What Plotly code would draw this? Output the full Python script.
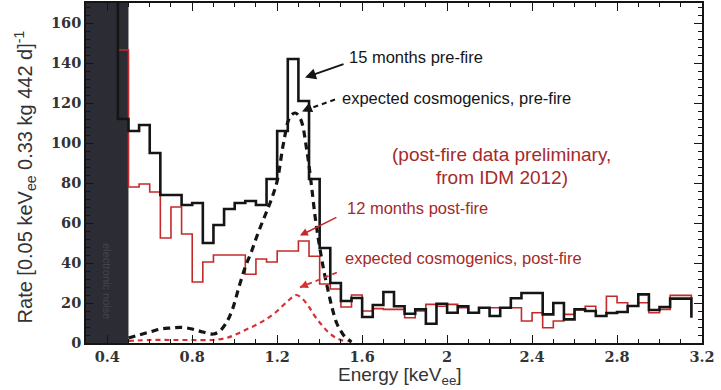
import numpy as np
import plotly.graph_objects as go

# ---------------- data ----------------
# histogram bin left edges (0.05 keV bins); first entry is an off-scale bin, last entry is the end of the line
bin_edges = np.round(np.arange(0.40, 3.151, 0.05), 2)

pre_fire_15mo = [200, 112, 106, 109, 95, 74, 74, 69, 70, 50, 59, 67, 70, 71, 69, 82, 106, 142, 121, 82,
                 47.5, 30, 21, 22.5, 13, 19, 25.5, 18.4, 14.6, 16.8, 9.6, 19.6, 15.1, 18.4, 15.1, 17.6,
                 13.5, 17.6, 22.4, 25, 25, 14.3, 20, 11.8, 16.8, 16, 13.5, 15, 15.5, 18.5, 24.3, 16.5,
                 18, 22.2, 22.2, 12.6]

post_fire_12mo = [200, 146.5, 78, 79.5, 75.5, 52.5, 68, 54.5, 30.5, 40.5, 44, 44, 44, 34.4, 42, 40.5, 46,
                  46, 51, 43.4, 29.5, 27, 18, 24, 16, 17.2, 16.8, 16.8, 12.6, 16, 19.3, 18.4, 19.3, 17.6,
                  15.1, 17.6, 17.6, 17.6, 17.6, 11, 15.1, 7.6, 11, 14.3, 16.8, 18.4, 13.5, 23.4, 20.1,
                  18.4, 20.1, 15.1, 16.8, 23.8, 23.8, 14.3]

cosmo_pre_E = [0.50, 0.55, 0.60, 0.65, 0.70, 0.75, 0.80, 0.85, 0.90, 0.93, 0.96, 0.99, 1.02, 1.05, 1.08,
               1.11, 1.14, 1.17, 1.20, 1.23, 1.26, 1.285, 1.31, 1.34, 1.36, 1.38, 1.40, 1.42, 1.44, 1.46,
               1.48, 1.50, 1.52, 1.55]
cosmo_pre = [2.5, 4, 5.5, 7, 7.5, 7.8, 7, 5.5, 4.5, 6, 10, 17, 28, 38, 46, 55, 63, 71, 81, 100, 113, 115,
             112, 96, 80, 62, 48, 36, 26, 17, 10, 6, 3, 0.5]

cosmo_post_E = [0.50, 0.60, 0.70, 0.80, 0.90, 0.96, 1.00, 1.05, 1.10, 1.15, 1.20, 1.25, 1.29, 1.32, 1.35,
                1.38, 1.41, 1.44, 1.47, 1.50, 1.53]
cosmo_post = [1, 1.5, 1.5, 1.5, 1.5, 2.5, 4, 6.5, 9, 12, 16, 21, 24, 22, 18, 13, 9, 5.5, 3, 1.5, 0.5]

noise_region = [0.3, 0.5]
x_ticks = [0.4, 0.8, 1.2, 1.6, 2, 2.4, 2.8, 3.2]
x_ticklabels = ["0.4", "0.8", "1.2", "1.6", "2", "2.4", "2.8", "3.2"]
y_ticks = [0, 20, 40, 60, 80, 100, 120, 140, 160]

BLACK = "#151515"
RED_LINE = "#c42a2a"
RED_DASH = "#d83030"
RED_TEXT = "#a52a2a"

fig = go.Figure()

fig.add_shape(type="rect", xref="x", yref="paper", x0=noise_region[0], x1=noise_region[1], y0=0, y1=1,
              fillcolor="#2c2c35", line=dict(width=0), layer="below")

fig.add_trace(go.Scatter(x=bin_edges, y=post_fire_12mo, mode="lines", line=dict(shape="hv", color=RED_LINE, width=1.6),
                         name="12 months post-fire"))
fig.add_trace(go.Scatter(x=bin_edges, y=pre_fire_15mo, mode="lines", line=dict(shape="hv", color=BLACK, width=2.6),
                         name="15 months pre-fire"))
fig.add_trace(go.Scatter(x=cosmo_post_E, y=cosmo_post, mode="lines", line=dict(color=RED_DASH, width=2.2, dash="5px,4px"),
                         line_shape="spline", name="expected cosmogenics, post-fire"))
fig.add_trace(go.Scatter(x=cosmo_pre_E, y=cosmo_pre, mode="lines", line=dict(color=BLACK, width=3.2, dash="7px,5px"),
                         line_shape="spline", name="expected cosmogenics, pre-fire"))

txt = dict(family="Liberation Sans, Arial, sans-serif", size=16.5)
ann = []
# black labels
ann.append(dict(x=1.529, y=143.2, text="15 months pre-fire", xanchor="left", yanchor="middle", showarrow=False,
                font=dict(color=BLACK, **txt)))
ann.append(dict(x=1.331, y=132.7, ax=40, ay=-14, text="", showarrow=True, arrowhead=2, arrowsize=1.1,
                arrowwidth=2, arrowcolor=BLACK))
ann.append(dict(x=1.496, y=122.3, text="expected cosmogenics, pre-fire", xanchor="left", yanchor="middle",
                showarrow=False, font=dict(color=BLACK, **txt)))
# red labels
ann.append(dict(x=2.258, y=94.4, text="(post-fire data preliminary,", xanchor="center", yanchor="middle",
                showarrow=False, font=dict(color=RED_TEXT, family=txt["family"], size=19)))
ann.append(dict(x=2.258, y=83.0, text="from IDM 2012)", xanchor="center", yanchor="middle",
                showarrow=False, font=dict(color=RED_TEXT, family=txt["family"], size=19)))
ann.append(dict(x=1.519, y=67.6, text="12 months post-fire", xanchor="left", yanchor="middle", showarrow=False,
                font=dict(color=RED_TEXT, **txt)))
ann.append(dict(x=1.307, y=53.7, ax=38, ay=-19, text="", showarrow=True, arrowhead=2, arrowsize=1,
                arrowwidth=1.6, arrowcolor=RED_LINE))
ann.append(dict(x=1.51, y=42.7, text="expected cosmogenics, post-fire", xanchor="left", yanchor="middle",
                showarrow=False, font=dict(color=RED_TEXT, **txt)))
# dashed leader heads
ann.append(dict(x=1.317, y=115.8, ax=7, ay=-3, text="", showarrow=True, arrowhead=2, arrowsize=1,
                arrowwidth=2, arrowcolor=BLACK))
ann.append(dict(x=1.307, y=27.8, ax=7, ay=-3, text="", showarrow=True, arrowhead=2, arrowsize=1,
                arrowwidth=1.6, arrowcolor=RED_DASH))
# electronic noise label
ann.append(dict(x=0.399, y=31, text="electronic noise", textangle=90, showarrow=False,
                font=dict(color="#44444f", size=11, family=txt["family"])))
# axis titles
ann.append(dict(xref="paper", yref="paper", x=-0.099, y=0.487, text="Rate [0.05 keV<sub>ee</sub> 0.33 kg 442 d]<sup>-1</sup>",
                textangle=-90, showarrow=False, xanchor="center", yanchor="middle",
                font=dict(color="#333333", size=20, family=txt["family"])))
ann.append(dict(xref="paper", yref="paper", x=0.51, y=-0.137, text="Energy [keV<sub>ee</sub>]",
                showarrow=False, xanchor="center", yanchor="bottom",
                font=dict(color="#333333", size=19, family=txt["family"])))

# dashed leader lines
fig.add_shape(type="line", xref="x", yref="y", x0=1.317 + 33 / 212.4, y0=115.8 + 12 * 170 / 342, x1=1.317, y1=115.8,
              line=dict(color=BLACK, width=2.2, dash="5px,4px"))
fig.add_shape(type="line", xref="x", yref="y", x0=1.307 + 37 / 212.4, y0=27.8 + 15 * 170 / 342, x1=1.307, y1=27.8,
              line=dict(color=RED_DASH, width=1.8, dash="5px,4px"))

tickfont = dict(family="DejaVu Serif", size=14.5, color="#333333", weight="bold")
fig.update_layout(
    width=721, height=390, margin=dict(l=86, r=19, t=1, b=47),
    paper_bgcolor="white", plot_bgcolor="white", showlegend=False,
    annotations=ann,
    xaxis=dict(range=[0.3, 3.2], tickvals=x_ticks, ticktext=x_ticklabels, ticks="inside", ticklen=8,
               tickwidth=1.3, tickcolor=BLACK, showline=True, linecolor=BLACK, linewidth=1.6, mirror="ticks",
               showgrid=False, zeroline=False, tickfont=tickfont,
               minor=dict(dtick=0.1, tick0=0.0, ticks="inside", ticklen=4, tickcolor=BLACK, tickwidth=1)),
    yaxis=dict(range=[0, 170], tickvals=y_ticks, ticks="inside", ticklen=8, tickwidth=1.3, tickcolor=BLACK,
               showline=True, linecolor=BLACK, linewidth=1.6, mirror="ticks", showgrid=False, zeroline=False,
               tickfont=tickfont,
               minor=dict(dtick=4, tick0=0, ticks="inside", ticklen=4, tickcolor=BLACK, tickwidth=1)),
)

fig.write_html("out.html")
